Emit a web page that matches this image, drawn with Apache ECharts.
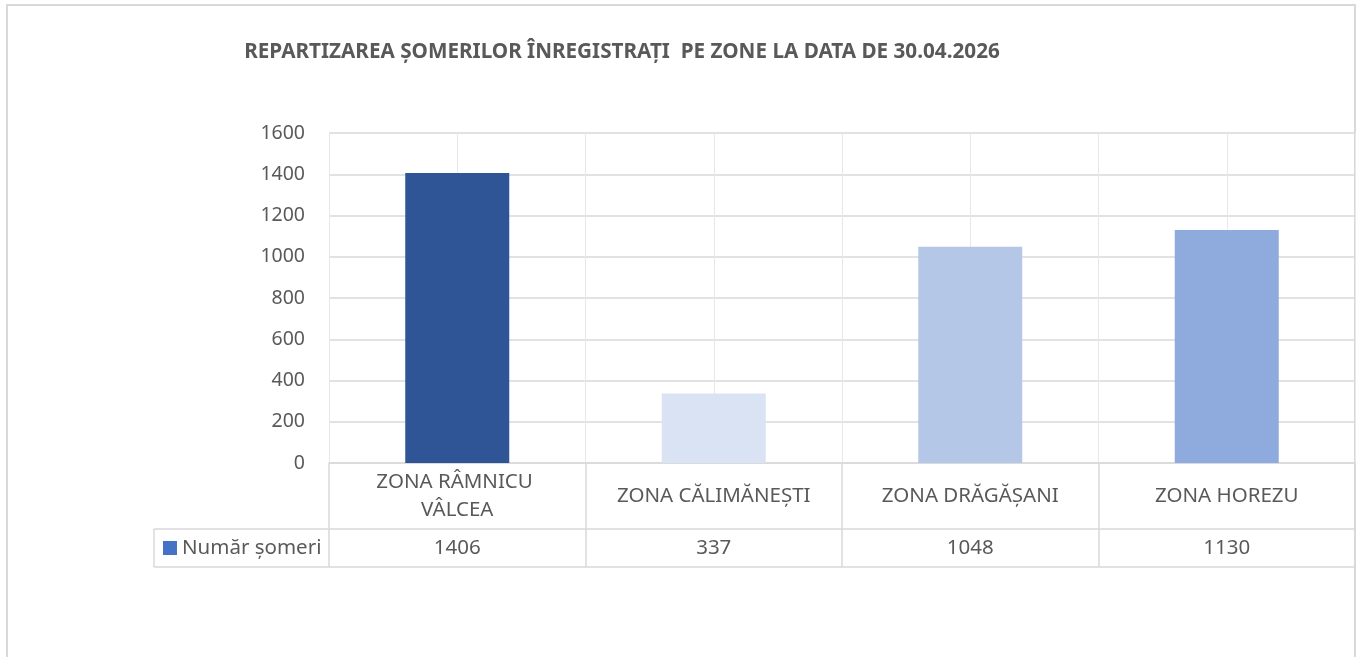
<!DOCTYPE html>
<html>
<head>
<meta charset="utf-8">
<title>Repartizarea somerilor</title>
<script src="https://cdn.jsdelivr.net/npm/echarts@6/dist/echarts.min.js"></script>
<style>
  html, body { margin: 0; padding: 0; background: #fff; }
  #myChart { width: 1361px; height: 657px; }
</style>
</head>
<body>
<div id="myChart"></div>
<script>
// date
var titleText = 'REPARTIZAREA ȘOMERILOR ÎNREGISTRAȚI  PE ZONE LA DATA DE 30.04.2026';
var seriesName = 'Număr șomeri';
var categories = ['ZONA RÂMNICU VÂLCEA', 'ZONA CĂLIMĂNEȘTI', 'ZONA DRĂGĂȘANI', 'ZONA HOREZU'];
var values = [1406, 337, 1048, 1130];
var yTicks = [0, 200, 400, 600, 800, 1000, 1200, 1400, 1600];

// culori
var barColors = ['#2F5597', '#DAE3F3', '#B4C7E7', '#8FAADC'];
var textColor = '#595959';
var lineColor = '#d9d9d9';
var font = 'Noto Sans';

var myChart = echarts.init(document.getElementById('myChart'));

var option = {
    animation: false,
    title: {
        text: titleText,
        left: 617,
        top: 37,
        textAlign: 'center',
        textStyle: { fontFamily: font, fontSize: 20.7, fontWeight: 'bold', color: textColor }
    },
    legend: {
        data: [seriesName],
        left: 163,
        top: 537,
        padding: 0,
        icon: 'rect',
        itemWidth: 14,
        itemHeight: 14,
        itemGap: 5,
        textStyle: { fontFamily: font, fontSize: 20.5, color: textColor, lineHeight: 22 }
    },
    grid: { left: 329, right: 6, top: 133, bottom: 194 },
    xAxis: [
        {
            type: 'category',
            data: categories,
            axisLine: { show: true, lineStyle: { color: lineColor, width: 1.5 } },
            axisTick: { show: true, length: 104, lineStyle: { color: lineColor, width: 1.5 } },
            axisLabel: {
                interval: 0,
                margin: 33,
                verticalAlign: 'middle',
                lineHeight: 28,
                width: 224,
                overflow: 'break',
                fontFamily: font,
                fontSize: 20.5,
                color: textColor
            },
            splitLine: { show: false }
        },
        {
            // randul tabelului cu valori
            type: 'category',
            position: 'bottom',
            offset: 66,
            data: values.map(String),
            axisLine: { show: false },
            axisTick: { show: false },
            axisLabel: { interval: 0, margin: 0, lineHeight: 38, fontFamily: font, fontSize: 20.5, color: textColor }
        },
        {
            // liniile verticale ale grilei
            type: 'value',
            min: 0,
            max: categories.length,
            interval: 0.5,
            show: true,
            axisLine: { show: false },
            axisTick: { show: false },
            axisLabel: { show: false },
            splitLine: { show: true, lineStyle: { color: '#e8e8e8', width: 1 } }
        }
    ],
    yAxis: {
        type: 'value',
        min: yTicks[0],
        max: yTicks[yTicks.length - 1],
        interval: yTicks[1] - yTicks[0],
        axisLine: { show: false },
        axisTick: { show: false },
        axisLabel: {
            margin: 24,
            fontFamily: font,
            fontSize: 19.5,
            color: textColor,
            formatter: function (v) { return String(v); }
        },
        splitLine: { lineStyle: { color: lineColor, width: 1.5 } }
    },
    series: [{
        name: seriesName,
        type: 'bar',
        xAxisIndex: 0,
        barWidth: 104,
        itemStyle: { color: '#4472C4' },
        data: values.map(function (v, i) {
            return { value: v, itemStyle: { color: barColors[i] } };
        })
    }],
    graphic: [
        // chenarul exterior
        { type: 'rect', shape: { x: 7, y: 5, width: 1348, height: 700 }, style: { fill: 'none', stroke: lineColor, lineWidth: 2 }, silent: true },
        // liniile tabelului
        { type: 'line', shape: { x1: 154, y1: 529, x2: 1355, y2: 529 }, style: { stroke: lineColor, lineWidth: 1.5 } },
        { type: 'line', shape: { x1: 154, y1: 567, x2: 1355, y2: 567 }, style: { stroke: lineColor, lineWidth: 1.5 } },
        { type: 'line', shape: { x1: 154, y1: 529, x2: 154, y2: 567 }, style: { stroke: lineColor, lineWidth: 1.5 } }
    ]
};

myChart.setOption(option);
window.addEventListener('resize', myChart.resize);
</script>
</body>
</html>
